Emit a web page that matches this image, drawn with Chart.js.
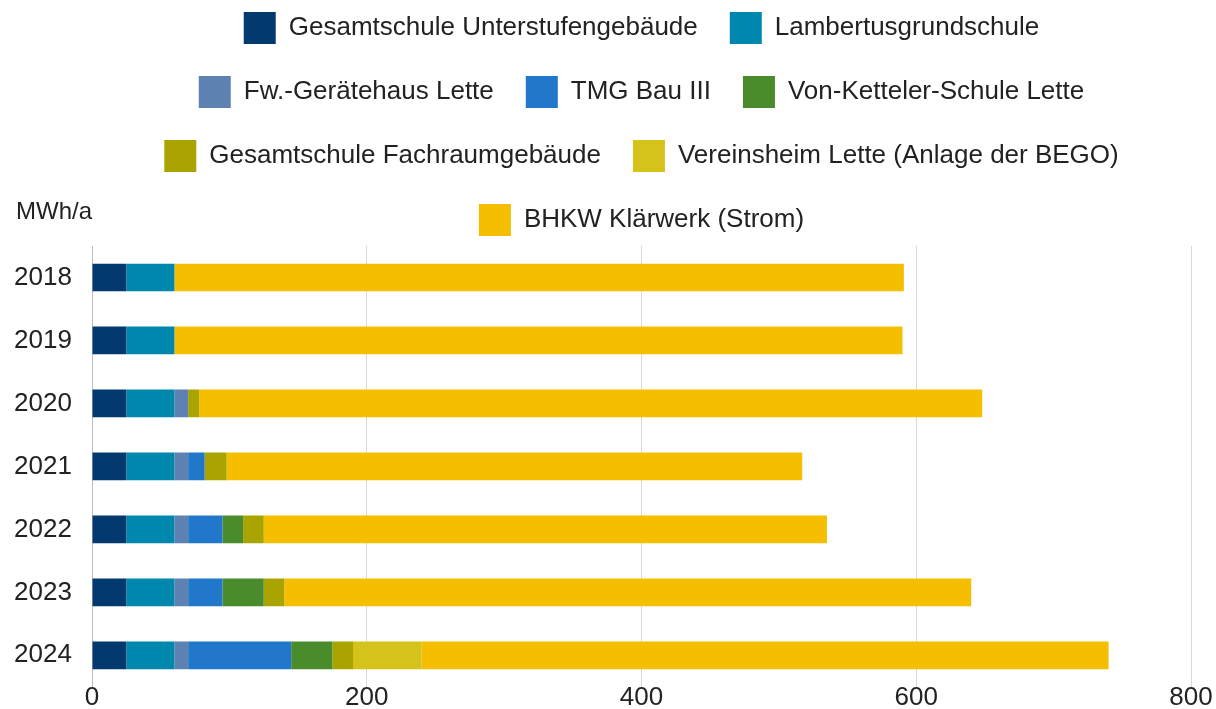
<!DOCTYPE html>
<html>
<head>
<meta charset="utf-8">
<script src="https://cdn.jsdelivr.net/npm/chart.js@4.4.1/dist/chart.umd.min.js"></script>
<style>
  html, body { margin: 0; padding: 0; background: #fff; }
  #wrap { width: 1216px; height: 709px; }
</style>
</head>
<body>
<div id="wrap"><canvas id="energyChart" width="1216" height="709"></canvas></div>
<script>
// Jahre (y-Achse)
const years = ['2018', '2019', '2020', '2021', '2022', '2023', '2024'];
const xTicks = [0, 200, 400, 600, 800];
const unitLabel = 'MWh/a';

// Werte in MWh/a
const unterstufe   = [25, 25, 25, 25, 25, 25, 25];
const lambertus    = [35, 35, 35, 35, 35, 35, 35];
const feuerwehr    = [0, 0, 10, 10, 10, 10, 10];
const tmgBau       = [0, 0, 0, 12, 25, 25, 75];
const ketteler     = [0, 0, 0, 0, 15, 30, 30];
const fachraum     = [0, 0, 8, 16, 15, 15, 15];
const vereinsheim  = [0, 0, 0, 0, 0, 0, 50];
const bhkw         = [531, 530, 570, 419, 410, 500, 500];

const seriesNames = [
  'Gesamtschule Unterstufengebäude', 'Lambertusgrundschule',
  'Fw.-Gerätehaus Lette', 'TMG Bau III', 'Von-Ketteler-Schule Lette',
  'Gesamtschule Fachraumgebäude', 'Vereinsheim Lette (Anlage der BEGO)',
  'BHKW Klärwerk (Strom)'
];
const seriesData = [unterstufe, lambertus, feuerwehr, tmgBau, ketteler, fachraum, vereinsheim, bhkw];
const seriesColors = ['#023a6f', '#0087ae', '#5d82b2', '#2177c9', '#4a8b2c', '#a9a400', '#d5c31b', '#f5bf00'];

const FONT = '"Liberation Sans", Arial, sans-serif';

// Einheit oben links
const unitPlugin = {
  id: 'unitLabel',
  afterDraw(chart) {
    const ctx = chart.ctx;
    ctx.save();
    ctx.font = '24px ' + FONT;
    ctx.fillStyle = '#222';
    ctx.textAlign = 'left';
    ctx.textBaseline = 'middle';
    ctx.fillText(unitLabel, 16, 212);
    ctx.restore();
  }
};

new Chart(document.getElementById('energyChart'), {
  type: 'bar',
  data: {
    labels: years,
    datasets: seriesNames.map((name, i) => ({
      label: name,
      data: seriesData[i],
      backgroundColor: seriesColors[i],
      borderWidth: 0,
      barPercentage: 0.44,
      categoryPercentage: 1
    }))
  },
  options: {
    indexAxis: 'y',
    responsive: false,
    animation: false,
    layout: {
      padding: { top: -20, left: 14, right: 25, bottom: 1 }
    },
    scales: {
      x: {
        stacked: true,
        min: 0,
        max: 800,
        afterBuildTicks: (axis) => { axis.ticks = xTicks.map(v => ({ value: v })); },
        ticks: {
          font: { size: 26, family: FONT },
          color: '#222',
          padding: -5
        },
        grid: {
          color: '#d8d8d8',
          drawTicks: false
        },
        border: { display: false }
      },
      y: {
        stacked: true,
        afterFit: (scale) => { scale.width = 78; },
        ticks: {
          font: { size: 26, family: FONT },
          color: '#222',
          padding: 0,
          crossAlign: 'far'
        },
        grid: {
          display: false,
          drawTicks: false
        },
        border: { display: true, color: '#bdbdbd', width: 1 }
      }
    },
    plugins: {
      legend: {
        position: 'top',
        fullSize: false,
        labels: {
          boxWidth: 32,
          boxHeight: 32,
          padding: 32,
          color: '#222',
          font: { size: 26, family: FONT }
        }
      },
      tooltip: { enabled: false }
    }
  },
  plugins: [unitPlugin]
});
</script>
</body>
</html>
